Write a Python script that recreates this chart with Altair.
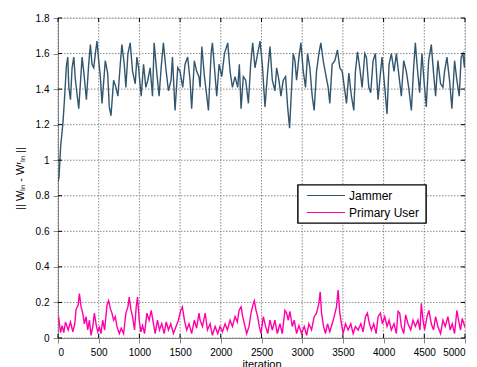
import altair as alt
import pandas as pd

# ---- data ----
jammer_iter = [0, 12, 33, 61, 82, 103, 120, 133, 153, 173, 194, 214, 255, 296, 316, 349, 377, 398, 418, 439, 459, 479,
               500, 520, 541, 581, 610, 630, 651, 683, 712, 736, 765, 785, 814, 834, 859, 887, 916, 949, 969, 990,
               1022, 1051, 1079, 1103, 1132, 1161, 1181, 1214, 1242, 1267, 1295, 1324, 1357, 1389, 1406, 1438, 1471,
               1499, 1532, 1561, 1593, 1622, 1642, 1675, 1703, 1732, 1746, 1767, 1799, 1828, 1848, 1881, 1897, 1922,
               1950, 1979, 2012, 2045, 2085, 2114, 2143, 2175, 2208, 2228, 2249, 2277, 2306, 2339, 2367, 2392, 2420,
               2453, 2482, 2510, 2543, 2576, 2604, 2633, 2665, 2686, 2714, 2739, 2767, 2796, 2821, 2845, 2870, 2890,
               2911, 2931, 2960, 2984, 3013, 3041, 3066, 3094, 3123, 3147, 3176, 3205, 3229, 3258, 3286, 3319, 3339,
               3368, 3401, 3433, 3462, 3491, 3524, 3544, 3573, 3605, 3634, 3654, 3679, 3707, 3736, 3769, 3789, 3818,
               3842, 3871, 3899, 3932, 3961, 3981, 4014, 4042, 4067, 4095, 4128, 4157, 4185, 4218, 4247, 4279, 4308,
               4341, 4369, 4390, 4414, 4443, 4471, 4496, 4524, 4553, 4586, 4614, 4639, 4667, 4700, 4729, 4749, 4778,
               4810, 4839, 4872, 4900, 4929, 4953, 4974, 4994, 5000]
jammer_val = [0.88, 0.90, 1.08, 1.21, 1.36, 1.53, 1.58, 1.41, 1.34, 1.52, 1.58, 1.45, 1.29, 1.58, 1.50, 1.34, 1.54, 1.65,
              1.54, 1.52, 1.60, 1.67, 1.56, 1.47, 1.32, 1.56, 1.49, 1.30, 1.25, 1.45, 1.41, 1.36, 1.54, 1.65, 1.54,
              1.41, 1.60, 1.66, 1.50, 1.43, 1.58, 1.52, 1.36, 1.54, 1.41, 1.45, 1.52, 1.36, 1.66, 1.49, 1.36, 1.52,
              1.66, 1.52, 1.39, 1.45, 1.58, 1.28, 1.52, 1.50, 1.41, 1.54, 1.58, 1.45, 1.29, 1.56, 1.50, 1.47, 1.41,
              1.64, 1.47, 1.36, 1.28, 1.60, 1.66, 1.52, 1.36, 1.54, 1.47, 1.60, 1.66, 1.50, 1.41, 1.47, 1.41, 1.54,
              1.29, 1.47, 1.45, 1.32, 1.54, 1.66, 1.52, 1.60, 1.67, 1.54, 1.30, 1.50, 1.64, 1.45, 1.39, 1.52, 1.45,
              1.36, 1.45, 1.47, 1.30, 1.18, 1.41, 1.60, 1.56, 1.45, 1.58, 1.66, 1.50, 1.41, 1.60, 1.52, 1.36, 1.28,
              1.50, 1.60, 1.66, 1.56, 1.49, 1.41, 1.32, 1.54, 1.56, 1.62, 1.52, 1.50, 1.39, 1.32, 1.49, 1.36, 1.28,
              1.50, 1.61, 1.52, 1.41, 1.60, 1.58, 1.41, 1.38, 1.56, 1.60, 1.34, 1.49, 1.58, 1.41, 1.26, 1.54, 1.60,
              1.50, 1.60, 1.49, 1.36, 1.56, 1.50, 1.41, 1.28, 1.52, 1.66, 1.52, 1.38, 1.60, 1.45, 1.30, 1.56, 1.65,
              1.49, 1.36, 1.56, 1.43, 1.41, 1.50, 1.58, 1.45, 1.29, 1.56, 1.45, 1.36, 1.58, 1.60, 1.52, 1.60]

user_iter = [0, 10, 31, 51, 71, 92, 125, 153, 182, 206, 222, 247, 263, 284, 304, 324, 345, 365, 386, 406, 426, 447, 467,
             488, 508, 528, 549, 573, 602, 622, 643, 663, 683, 704, 724, 753, 777, 806, 834, 859, 875, 896, 916, 940,
             961, 977, 998, 1018, 1039, 1063, 1092, 1120, 1145, 1173, 1194, 1222, 1247, 1275, 1304, 1330, 1357, 1385,
             1418, 1447, 1479, 1508, 1528, 1553, 1581, 1610, 1642, 1675, 1703, 1732, 1746, 1775, 1808, 1836, 1869,
             1897, 1930, 1963, 1991, 2020, 2053, 2081, 2114, 2143, 2175, 2204, 2224, 2249, 2269, 2290, 2318, 2347,
             2371, 2400, 2412, 2433, 2453, 2473, 2494, 2522, 2551, 2576, 2604, 2633, 2665, 2694, 2727, 2755, 2788,
             2808, 2829, 2849, 2878, 2902, 2931, 2960, 2992, 3025, 3054, 3082, 3115, 3147, 3176, 3205, 3221, 3238,
             3262, 3286, 3311, 3339, 3368, 3393, 3421, 3441, 3462, 3483, 3503, 3532, 3564, 3597, 3626, 3654, 3687,
             3720, 3748, 3777, 3801, 3826, 3850, 3879, 3908, 3932, 3961, 3985, 4014, 4042, 4067, 4095, 4128, 4157,
             4177, 4198, 4218, 4247, 4271, 4300, 4333, 4361, 4390, 4422, 4447, 4463, 4484, 4504, 4533, 4557, 4586,
             4614, 4639, 4667, 4700, 4729, 4757, 4790, 4818, 4843, 4872, 4900, 4921, 4945, 4966, 4986, 5000]
user_val = [0.10, 0.11, 0.03, 0.07, 0.03, 0.09, 0.045, 0.09, 0.035, 0.08, 0.16, 0.185, 0.25, 0.175, 0.14, 0.08, 0.12,
            0.045, 0.10, 0.015, 0.06, 0.14, 0.08, 0.035, 0.06, 0.025, 0.10, 0.045, 0.185, 0.21, 0.165, 0.14, 0.10,
            0.12, 0.065, 0.025, 0.055, 0.025, 0.14, 0.175, 0.23, 0.16, 0.12, 0.045, 0.175, 0.23, 0.10, 0.035, 0.07,
            0.025, 0.14, 0.10, 0.155, 0.08, 0.025, 0.10, 0.045, 0.08, 0.025, 0.09, 0.045, 0.08, 0.025, 0.06, 0.10,
            0.155, 0.175, 0.10, 0.045, 0.08, 0.025, 0.10, 0.055, 0.14, 0.10, 0.065, 0.14, 0.045, 0.08, 0.015, 0.065,
            0.025, 0.065, 0.035, 0.08, 0.045, 0.10, 0.065, 0.12, 0.09, 0.155, 0.175, 0.12, 0.08, 0.025, 0.065, 0.14,
            0.195, 0.21, 0.155, 0.12, 0.065, 0.025, 0.12, 0.065, 0.025, 0.10, 0.045, 0.10, 0.025, 0.08, 0.025, 0.155,
            0.14, 0.10, 0.15, 0.065, 0.10, 0.025, 0.07, 0.025, 0.065, 0.015, 0.08, 0.045, 0.12, 0.14, 0.195, 0.26,
            0.14, 0.065, 0.025, 0.08, 0.035, 0.08, 0.12, 0.175, 0.27, 0.14, 0.08, 0.025, 0.08, 0.045, 0.08, 0.025,
            0.065, 0.045, 0.08, 0.035, 0.12, 0.14, 0.08, 0.045, 0.08, 0.025, 0.12, 0.14, 0.08, 0.12, 0.065, 0.10,
            0.045, 0.08, 0.025, 0.15, 0.14, 0.065, 0.025, 0.13, 0.08, 0.045, 0.10, 0.065, 0.10, 0.045, 0.195, 0.10,
            0.045, 0.12, 0.155, 0.08, 0.045, 0.12, 0.065, 0.025, 0.10, 0.065, 0.12, 0.045, 0.08, 0.025, 0.155, 0.10,
            0.045, 0.11, 0.08, 0.06]

series_names = ["Jammer", "Primary User"]
series_colors = ["#33566f", "#ff00a8"]
x_ticks = [0, 500, 1000, 1500, 2000, 2500, 3000, 3500, 4000, 4500, 5000]
y_ticks = [0, 0.2, 0.4, 0.6, 0.8, 1.0, 1.2, 1.4, 1.6, 1.8]

df = pd.concat([
    pd.DataFrame({"iteration": jammer_iter, "value": jammer_val, "series": series_names[0]}),
    pd.DataFrame({"iteration": user_iter, "value": user_val, "series": series_names[1]}),
])
xt_df = pd.DataFrame({"iteration": x_ticks})
yt_df = pd.DataFrame({"value": y_ticks})

FONT = "Liberation Sans"
W, H = 407, 320

x_scale = alt.Scale(domain=[0, 5000], nice=False)
y_scale = alt.Scale(domain=[0, 1.8], nice=False)
x_axis = alt.Axis(values=x_ticks, title="iteration", format="d", grid=False,
                  titlePadding=1, labelPadding=4, labelOverlap=False, titleFontWeight="normal")
y_axis = alt.Axis(values=y_ticks, title="|| Wₗₙ - Wʳₗₙ ||", format="~g", grid=False,
                  titleX=-33, labelPadding=4, labelOverlap=False, titleFontWeight="normal")


def XA():
    return alt.X("iteration:Q", scale=x_scale, axis=x_axis)


def YA():
    return alt.Y("value:Q", scale=y_scale, axis=y_axis)


# grid lines (dotted, MATLAB style)
xgrid = alt.Chart(xt_df).mark_rule(color="#6e6e6e", strokeWidth=0.8, strokeDash=[1.5, 1.5]).encode(
    x=XA(), y=alt.value(0), y2=alt.value(H))
ygrid = alt.Chart(yt_df).mark_rule(color="#6e6e6e", strokeWidth=0.8, strokeDash=[1.5, 1.5]).encode(
    y=YA(), x=alt.value(0), x2=alt.value(W))

# inward tick marks on all four sides
tk = dict(color="black", strokeWidth=1)
xtick_b = alt.Chart(xt_df).mark_rule(**tk).encode(x=XA(), y=alt.value(H - 4), y2=alt.value(H))
xtick_t = alt.Chart(xt_df).mark_rule(**tk).encode(x=XA(), y=alt.value(0), y2=alt.value(4))
ytick_l = alt.Chart(yt_df).mark_rule(**tk).encode(y=YA(), x=alt.value(0), x2=alt.value(4))
ytick_r = alt.Chart(yt_df).mark_rule(**tk).encode(y=YA(), x=alt.value(W - 4), x2=alt.value(W))

lines = alt.Chart(df).mark_line(strokeWidth=1.4, clip=True).encode(
    x=XA(), y=YA(),
    color=alt.Color("series:N",
                    scale=alt.Scale(domain=series_names, range=series_colors),
                    legend=None),
    detail="series:N",
)

# ---- legend box drawn by hand ----
leg_df = pd.DataFrame({"series": series_names})
box = alt.Chart(leg_df).mark_rect(fill="white", stroke="black", strokeWidth=1.2).encode(
    x=alt.value(240), x2=alt.value(368), y=alt.value(167), y2=alt.value(205))
leg_layers = [box]
for i, (name, col) in enumerate(zip(series_names, series_colors)):
    one = alt.Chart(leg_df).transform_filter(alt.datum.series == name)
    yy = 177.5 + i * 17
    leg_layers.append(one.mark_rule(color=col, strokeWidth=1.2).encode(
        x=alt.value(249), x2=alt.value(287), y=alt.value(yy)))
    leg_layers.append(one.mark_text(align="left", baseline="middle", font=FONT, fontSize=12,
                                    color="black").encode(
        x=alt.value(291), y=alt.value(yy), text="series:N"))

chart = alt.layer(xgrid, ygrid, lines, xtick_b, xtick_t, ytick_l, ytick_r, *leg_layers).properties(
    width=W, height=H,
    autosize=alt.AutoSizeParams(type="none"),
    padding={"left": 50, "top": 10, "right": 4, "bottom": 30},
).configure_axis(
    labelFont=FONT, labelFontSize=12, labelColor="black",
    titleFont=FONT, titleFontSize=12, titleColor="black",
    domain=False, tickSize=0,
).configure_view(
    stroke="black", strokeWidth=1.2,
).configure(background="white")

chart.save("out.html", embed_options={"renderer": "svg", "actions": False})
